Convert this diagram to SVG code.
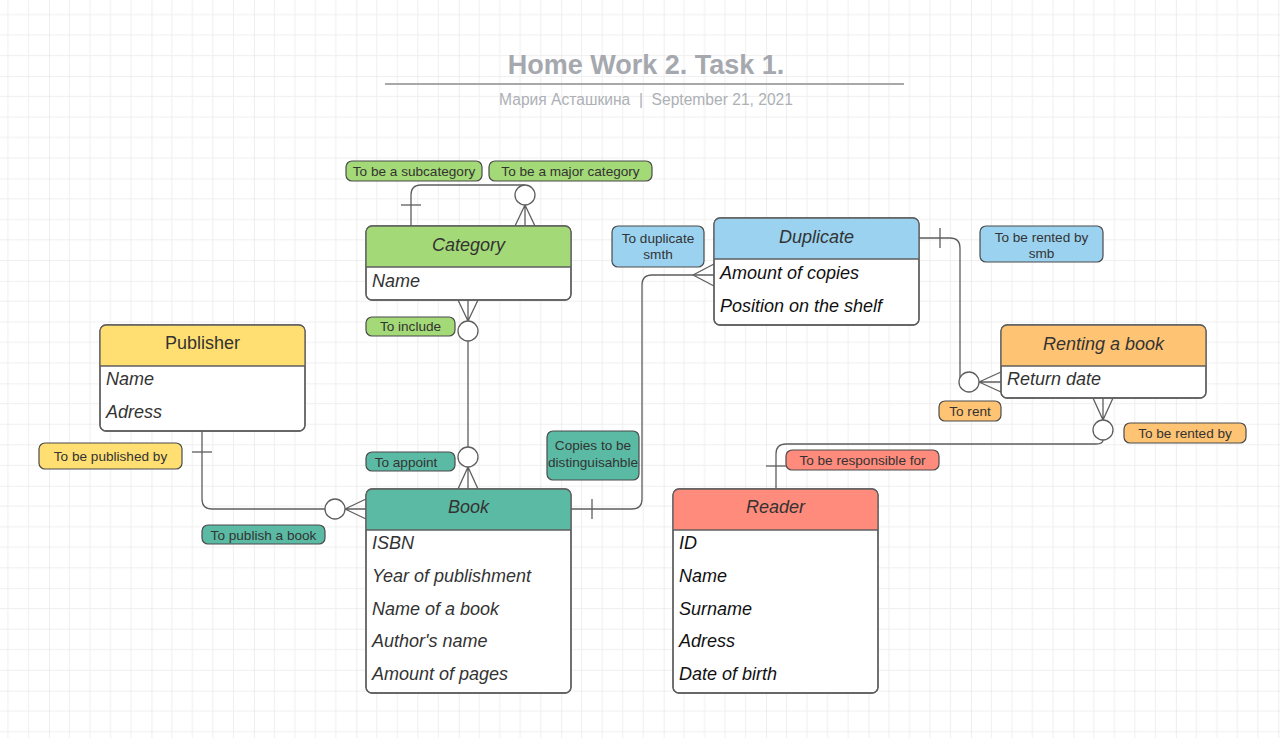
<svg xmlns="http://www.w3.org/2000/svg" width="1280" height="738" viewBox="0 0 1280 738">
<defs>
<pattern id="grid" patternUnits="userSpaceOnUse" x="49" y="76" width="102.44" height="102.44">
<path d="M20.49 0V102.44M40.98 0V102.44M61.46 0V102.44M81.95 0V102.44M0 20.49H102.44M0 40.98H102.44M0 61.46H102.44M0 81.95H102.44" stroke="#efefef" stroke-width="1" fill="none"/>
<path d="M0 0V102.44M0 0H102.44" stroke="#e2e2e2" stroke-width="1.2" fill="none"/>
</pattern>
<style>
.box{fill:#fff;stroke:#5e5e5e;stroke-width:1.3}
.edge{fill:none;stroke:#5e5e5e;stroke-width:1.3}
.sep{stroke:#5e5e5e;stroke-width:1.3}
.title{font-family:"Liberation Sans",Arial,sans-serif;font-size:18px;fill:#333;text-anchor:middle}
.attr{font-family:"Liberation Sans",Arial,sans-serif;font-size:18px;font-style:italic;fill:#333}
.attrk{font-family:"Liberation Sans",Arial,sans-serif;font-size:18px;font-style:italic;fill:#111}
.lbl{font-family:"Liberation Sans",Arial,sans-serif;font-size:13.6px;fill:#333;text-anchor:middle}
.lb{stroke:#4a4a4a;stroke-width:1.2}
.circ{fill:#fff;stroke:#5e5e5e;stroke-width:1.3}
.green{fill:#a3d977}.blue{fill:#9ad2f0}.yellow{fill:#ffdf71}.orange{fill:#ffc374}.teal{fill:#5bbaa4}.red{fill:#fe8b7c}
</style>
</defs>
<rect width="1280" height="738" fill="#fff"/>
<rect width="1280" height="738" fill="url(#grid)"/>

<g id="header">
<text x="646" y="74" font-family="Liberation Sans, Arial, sans-serif" font-size="27" font-weight="bold" fill="#a5a8ae" text-anchor="middle">Home Work 2. Task 1.</text>
<line x1="385" y1="84" x2="904" y2="84" stroke="#a8a8a8" stroke-width="2"/>
<text x="646" y="105" font-family="Liberation Sans, Arial, sans-serif" font-size="15.6" fill="#adb0b5" text-anchor="middle" xml:space="preserve">Мария Асташкина  |  September 21, 2021</text>
</g>

<g id="connectors">
<path class="edge" d="M411 226V195Q411 185 421 185H525"/>
<line class="edge" x1="401" y1="205" x2="421" y2="205"/>
<path class="edge" d="M525 205L515 226M525 205V226M525 205L535 226"/>
<circle class="circ" cx="525" cy="195" r="10"/>
<path class="edge" d="M468 321L458 300M468 321V300M468 321L478 300"/>
<line class="edge" x1="468" y1="341" x2="468" y2="447"/>
<path class="edge" d="M468 467L458 489M468 467V489M468 467L478 489"/>
<circle class="circ" cx="468" cy="331" r="10"/>
<circle class="circ" cx="468" cy="457" r="10"/>
<path class="edge" d="M202 431V499Q202 509 212 509H325"/>
<line class="edge" x1="192" y1="452" x2="212" y2="452"/>
<path class="edge" d="M345 509L366 499M345 509H366M345 509L366 519"/>
<circle class="circ" cx="335" cy="509" r="10"/>
<path class="edge" d="M571 509H632Q642 509 642 499V285Q642 275 652 275H714"/>
<line class="edge" x1="592" y1="499" x2="592" y2="519"/>
<path class="edge" d="M693 275L714 264M693 275L714 286"/>
<path class="edge" d="M919 238H950Q960 238 960 248V379"/>
<line class="edge" x1="940" y1="228" x2="940" y2="248"/>
<path class="edge" d="M979 382L1001 372M979 382H1001M979 382L1001 392"/>
<circle class="circ" cx="969" cy="382" r="10"/>
<path class="edge" d="M1103 420L1093 398M1103 420V398M1103 420L1113 398"/>
<path class="edge" d="M1103 440Q1103 444 1096 444H786Q776 444 776 454V489"/>
<line class="edge" x1="766" y1="466" x2="786" y2="466"/>
<circle class="circ" cx="1103" cy="430" r="10"/>
</g>

<g id="category">
<rect class="box" x="366" y="226" width="205" height="74" rx="6"/>
<path class="green" d="M366 267V232Q366 226 372 226H565Q571 226 571 232V267Z"/>
<line class="sep" x1="366" y1="267" x2="571" y2="267"/>
<rect class="box" x="366" y="226" width="205" height="74" rx="6" style="fill:none"/>
<text class="title" x="468.5" y="251" font-style="italic">Category</text>
<text class="attr" x="372" y="287">Name</text>
</g>

<g id="duplicate">
<rect class="box" x="714" y="218" width="205" height="107" rx="6"/>
<path class="blue" d="M714 259V224Q714 218 720 218H913Q919 218 919 224V259Z"/>
<line class="sep" x1="714" y1="259" x2="919" y2="259"/>
<rect class="box" x="714" y="218" width="205" height="107" rx="6" style="fill:none"/>
<text class="title" x="816.5" y="243" font-style="italic">Duplicate</text>
<text class="attrk" x="720" y="279">Amount of copies</text>
<text class="attrk" x="720" y="312">Position on the shelf</text>
</g>

<g id="publisher">
<rect class="box" x="100" y="325" width="205" height="106" rx="6"/>
<path class="yellow" d="M100 366V331Q100 325 106 325H299Q305 325 305 331V366Z"/>
<line class="sep" x1="100" y1="366" x2="305" y2="366"/>
<rect class="box" x="100" y="325" width="205" height="106" rx="6" style="fill:none"/>
<text class="title" x="202.5" y="349">Publisher</text>
<text class="attr" x="106" y="385">Name</text>
<text class="attr" x="106" y="418">Adress</text>
</g>

<g id="renting">
<rect class="box" x="1001" y="325" width="205" height="73" rx="6"/>
<path class="orange" d="M1001 366V331Q1001 325 1007 325H1200Q1206 325 1206 331V366Z"/>
<line class="sep" x1="1001" y1="366" x2="1206" y2="366"/>
<rect class="box" x="1001" y="325" width="205" height="73" rx="6" style="fill:none"/>
<text class="title" x="1103.5" y="350" font-style="italic">Renting a book</text>
<text class="attr" x="1007" y="385">Return date</text>
</g>

<g id="book">
<rect class="box" x="366" y="489" width="205" height="204" rx="6"/>
<path class="teal" d="M366 530V495Q366 489 372 489H565Q571 489 571 495V530Z"/>
<line class="sep" x1="366" y1="530" x2="571" y2="530"/>
<rect class="box" x="366" y="489" width="205" height="204" rx="6" style="fill:none"/>
<text class="title" x="468.5" y="513" font-style="italic">Book</text>
<text class="attr" x="372" y="549">ISBN</text>
<text class="attr" x="372" y="582">Year of publishment</text>
<text class="attr" x="372" y="615">Name of a book</text>
<text class="attr" x="372" y="647">Author's name</text>
<text class="attr" x="372" y="680">Amount of pages</text>
</g>

<g id="reader">
<rect class="box" x="673" y="489" width="205" height="204" rx="6"/>
<path class="red" d="M673 530V495Q673 489 679 489H872Q878 489 878 495V530Z"/>
<line class="sep" x1="673" y1="530" x2="878" y2="530"/>
<rect class="box" x="673" y="489" width="205" height="204" rx="6" style="fill:none"/>
<text class="title" x="775.5" y="513" font-style="italic">Reader</text>
<text class="attrk" x="679" y="549">ID</text>
<text class="attrk" x="679" y="582">Name</text>
<text class="attrk" x="679" y="615">Surname</text>
<text class="attrk" x="679" y="647">Adress</text>
<text class="attrk" x="679" y="680">Date of birth</text>
</g>

<g id="label-subcategory"><rect class="green lb" x="346" y="161" width="136" height="20" rx="6"/><text class="lbl" x="414" y="176">To be a subcategory</text></g>
<g id="label-major"><rect class="green lb" x="489" y="161" width="163" height="20" rx="6"/><text class="lbl" x="570.5" y="176">To be a major category</text></g>
<g id="label-include"><rect class="green lb" x="366" y="317" width="89" height="19" rx="6"/><text class="lbl" x="410.5" y="331">To include</text></g>
<g id="label-appoint"><rect class="teal lb" x="366" y="452" width="89" height="19" rx="6"/><text class="lbl" x="406" y="467">To appoint</text></g>
<g id="label-duplicate"><rect class="blue lb" x="612" y="226" width="92" height="41" rx="6"/><text class="lbl" x="658" y="243">To duplicate</text><text class="lbl" x="658" y="259">smth</text></g>
<g id="label-rentedsmb"><rect class="blue lb" x="980" y="226" width="123" height="36" rx="6"/><text class="lbl" x="1041.5" y="242">To be rented by</text><text class="lbl" x="1041.5" y="258">smb</text></g>
<g id="label-rent"><rect class="orange lb" x="939" y="401" width="62" height="20" rx="6"/><text class="lbl" x="970" y="416">To rent</text></g>
<g id="label-rentedby"><rect class="orange lb" x="1124" y="423" width="122" height="20" rx="6"/><text class="lbl" x="1185" y="438">To be rented by</text></g>
<g id="label-responsible"><rect class="red lb" x="786" y="450" width="153" height="20" rx="6"/><text class="lbl" x="862.5" y="465">To be responsible for</text></g>
<g id="label-copies"><rect class="teal lb" x="547" y="431" width="92" height="49" rx="6"/><text class="lbl" x="593" y="450">Copies to be</text><text class="lbl" x="593" y="467">distinguisahble</text></g>
<g id="label-publishedby"><rect class="yellow lb" x="39" y="443" width="143" height="26" rx="6"/><text class="lbl" x="110.5" y="461">To be published by</text></g>
<g id="label-publish"><rect class="teal lb" x="202" y="525" width="123" height="19" rx="6"/><text class="lbl" x="263.5" y="540">To publish a book</text></g>
</svg>
